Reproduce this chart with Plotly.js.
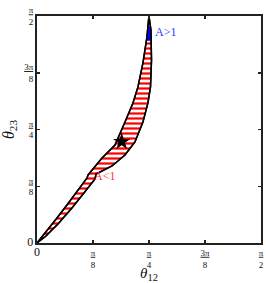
<!DOCTYPE html>
<html>
<head>
<meta charset="utf-8">
<script src="https://cdn.plot.ly/plotly-3.0.1.min.js"></script>
<style>html,body{margin:0;padding:0;background:#fff;}</style>
</head>
<body>
<div id="chart" style="width:266px;height:283px;"></div>
<script>
// Region boundaries (radians)
const rightX = [0, 0.063, 0.147, 0.245, 0.329, 0.407, 0.414, 0.470, 0.526, 0.617, 0.687, 0.743, 0.778, 0.796, 0.803, 0.799, 0.785];
const rightY = [0, 0.048, 0.131, 0.242, 0.346, 0.443, 0.477, 0.505, 0.533, 0.609, 0.699, 0.837, 0.969, 1.080, 1.266, 1.474, 1.571];
const leftX = [0.771, 0.743, 0.708, 0.673, 0.617, 0.547, 0.456, 0.358, 0.351, 0.280, 0.210, 0.140, 0.070, 0];
const leftY = [1.426, 1.246, 1.080, 0.969, 0.837, 0.678, 0.588, 0.471, 0.450, 0.353, 0.263, 0.173, 0.083, 0];
// A>1 sub-region near the top
const blueX = [0.770, 0.801, 0.800, 0.790, 0.778];
const blueY = [1.400, 1.400, 1.474, 1.500, 1.500];
// Best-fit point
const starX = [0.594];
const starY = [0.701];
// Ticks
const tickVals = [0, Math.PI/8, Math.PI/4, 3*Math.PI/8, Math.PI/2];
const tickText = [
  '<span style="font-size:12px;color:#111">0</span>',
  '<span style="color:#111"><u>π</u><br>8</span>',
  '<span style="color:#111"><u>π</u><br>4</span>',
  '<span style="color:#111"><u>3π</u><br>8</span>',
  '<span style="color:#111"><u>π</u><br>2</span>'
];

const polyX = rightX.concat(leftX);
const polyY = rightY.concat(leftY);

const traces = [
  {x: polyX, y: polyY, type: 'scatter', mode: 'lines', fill: 'toself',
   fillcolor: 'white',
   fillpattern: {shape: '-', fgcolor: 'red', bgcolor: 'white', size: 5, solidity: 0.45},
   line: {color: 'black', width: 1.5}, hoverinfo: 'skip'},
  {x: blueX, y: blueY, type: 'scatter', mode: 'none', fill: 'toself',
   fillcolor: 'blue', hoverinfo: 'skip'},
  {x: polyX, y: polyY, type: 'scatter', mode: 'lines',
   line: {color: 'black', width: 1.5}, hoverinfo: 'skip'},
  {x: starX, y: starY, type: 'scatter', mode: 'markers',
   marker: {symbol: 'star', size: 13, color: 'black'}}
];

const axisCommon = {
  range: [0, Math.PI/2], tickmode: 'array', tickvals: tickVals, ticktext: tickText,
  ticks: 'inside', ticklen: 3, tickwidth: 1.5, tickcolor: '#222',
  showline: true, linecolor: '#222', linewidth: 2, mirror: 'ticks',
  showgrid: false, zeroline: false,
  tickfont: {family: 'Liberation Serif', size: 9, color: '#111'}
};

const layout = {
  width: 266, height: 283,
  margin: {l: 37, r: 5, t: 16, b: 40},
  paper_bgcolor: 'white', plot_bgcolor: 'white',
  showlegend: false,
  font: {family: 'Liberation Serif', color: '#111'},
  xaxis: Object.assign({}, axisCommon, {
    title: {text: '<i>θ</i><sub>12</sub>', font: {family: 'Liberation Serif', size: 15, color: '#111'}, standoff: 3}
  }),
  yaxis: Object.assign({}, axisCommon, {
    title: {text: '<i>θ</i><sub>23</sub>', font: {family: 'Liberation Serif', size: 16, color: '#111'}, standoff: 6}
  }),
  annotations: [
    {x: 0.813, y: 1.460, xref: 'x', yref: 'y', text: 'A&gt;1', showarrow: false,
     xanchor: 'left', yanchor: 'middle', font: {family: 'Liberation Serif', size: 12, color: '#3333ff'}},
    {x: 0.386, y: 0.464, xref: 'x', yref: 'y', text: 'A&lt;1', showarrow: false,
     xanchor: 'left', yanchor: 'middle', font: {family: 'Liberation Serif', size: 12, color: '#ff3333'}}
  ]
};

Plotly.newPlot('chart', traces, layout, {displayModeBar: false, staticPlot: true});
</script>
</body>
</html>
